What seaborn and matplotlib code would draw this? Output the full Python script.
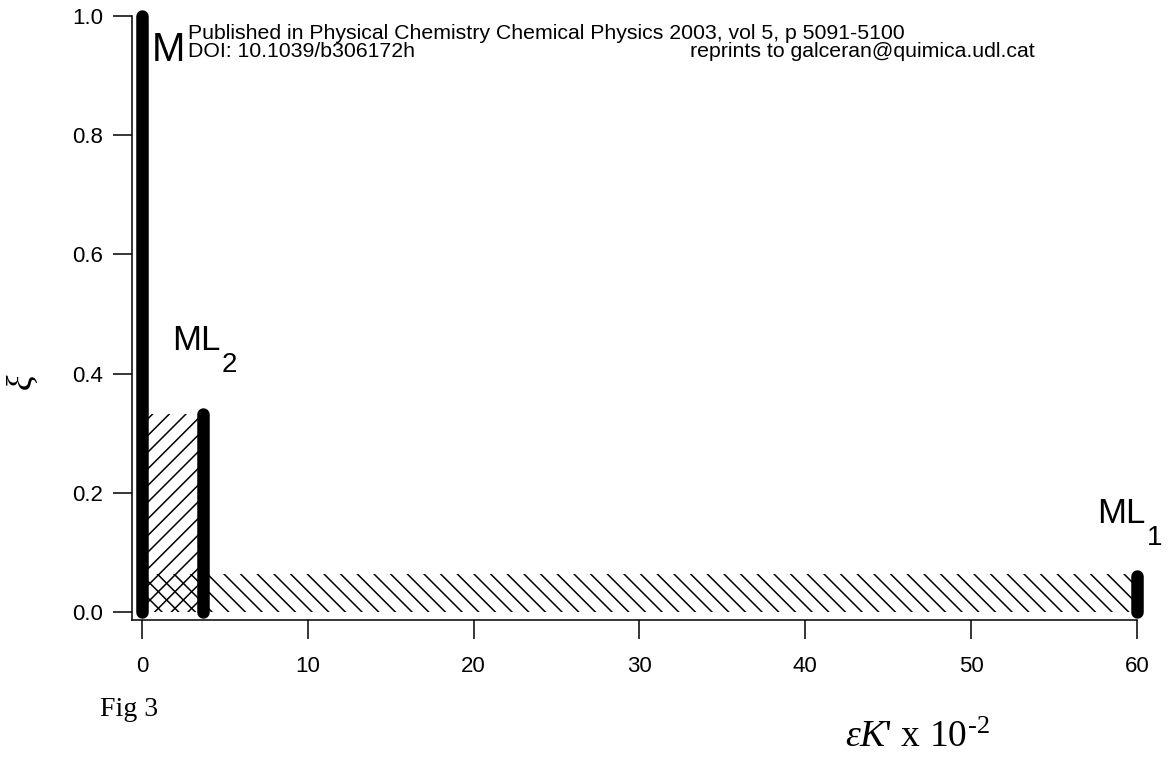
import matplotlib
matplotlib.use("Agg")
import matplotlib.pyplot as plt
import seaborn as sns
import pandas as pd

# ---- data ----
species = ["M", "ML2", "ML1"]
species_x = [0.0, 3.7, 60.0]          # εK' x 10^-2 position of each bar
species_xi = [1.0, 0.333, 0.06]       # ξ height of each bar
hatch_x0 = [0.0, 0.0]
hatch_x1 = [3.7, 60.0]
hatch_top = [0.333, 0.063]
hatch_style = ["//", "\\\\"]
x_ticks = [0, 10, 20, 30, 40, 50, 60]
y_ticks = [0.0, 0.2, 0.4, 0.6, 0.8, 1.0]

sns.set_theme(style="ticks")
plt.rcParams["font.family"] = ["Liberation Sans", "DejaVu Sans"]
plt.rcParams["text.color"] = "black"
plt.rcParams["mathtext.fontset"] = "custom"
plt.rcParams["mathtext.rm"] = "Liberation Serif"
plt.rcParams["mathtext.it"] = "Liberation Serif:italic"
plt.rcParams["hatch.linewidth"] = 1.1

W, H = 1175, 758
fig = plt.figure(figsize=(W / 100, H / 100), dpi=100)
ax = fig.add_axes([132 / W, 1 - 620 / H, (1137 - 132) / W, (620 - 16) / H])

# hatched regions
for x0, x1, top, h in zip(hatch_x0, hatch_x1, hatch_top, hatch_style):
    ax.bar(x0, top, width=x1 - x0, align="edge", bottom=0, fill=False,
           hatch=h, edgecolor="black", linewidth=0, zorder=1)

# thick vertical bars
rows = []
for name, x, y in zip(species, species_x, species_xi):
    rows.append({"x": x, "y": 0.0, "sp": name})
    rows.append({"x": x, "y": y, "sp": name})
df = pd.DataFrame(rows)
sns.lineplot(data=df, x="x", y="y", units="sp", estimator=None, sort=False,
             color="black", linewidth=9, solid_capstyle="round", ax=ax,
             zorder=3, legend=False)

ax.set_xlim(-0.6, 60)
ax.set_ylim(-0.0134, 1.0)
ax.set_xticks(x_ticks)
ax.set_yticks(y_ticks)
ax.set_xticklabels([str(v) for v in x_ticks])
ax.set_yticklabels([f"{v:.1f}" for v in y_ticks])
ax.tick_params(axis="both", direction="out", length=14, width=1.1,
               labelsize=16, colors="black")
ax.tick_params(axis="y", pad=7)
ax.tick_params(axis="x", pad=12)
for s in ["top", "right"]:
    ax.spines[s].set_visible(False)
for s in ["left", "bottom"]:
    ax.spines[s].set_linewidth(1.1)
    ax.spines[s].set_color("black")
ax.set_xlabel("")
ax.set_ylabel("")
for art in ax.lines:
    art.set_clip_on(False)

# species labels (main text + large subscript placed against it)
ax.text(0.6, 0.924, "M", fontsize=29, ha="left", va="baseline")
t2 = ax.text(1.8, 0.44, "ML", fontsize=25, ha="left", va="baseline")
ax.annotate("2", xy=(1, 0), xycoords=t2, xytext=(1, -11), textcoords="offset points",
            fontsize=20, ha="left", va="baseline")
t1 = ax.text(57.6, 0.15, "ML", fontsize=25, ha="left", va="baseline")
ax.annotate("1", xy=(1, 0), xycoords=t1, xytext=(1, -11), textcoords="offset points",
            fontsize=20, ha="left", va="baseline")

# header text
fig.text(188 / W, 1 - 39 / H, "Published in Physical Chemistry Chemical Physics 2003, vol 5, p 5091-5100",
         fontsize=15.3, ha="left", va="baseline")
fig.text(188 / W, 1 - 57 / H, "DOI: 10.1039/b306172h", fontsize=15.3, ha="left", va="baseline")
fig.text(690 / W, 1 - 57 / H, "reprints to galceran@quimica.udl.cat", fontsize=15.3,
         ha="left", va="baseline")

# axis labels
fig.text(100 / W, 1 - 716 / H, "Fig 3", fontsize=20, family="Liberation Serif",
         ha="left", va="baseline")
xl = fig.text(845 / W, 1 - 746 / H, r"$\varepsilon K$' x 10", fontsize=27,
              family="Liberation Serif", ha="left", va="baseline")
ax.annotate("-2", xy=(1, 0), xycoords=xl, xytext=(1, 15), textcoords="offset points",
            fontsize=19, family="Liberation Serif", ha="left", va="baseline")
fig.text(22 / W, 1 - 382 / H, r"$\xi$", fontsize=26, rotation=90,
         ha="center", va="center")

fig.savefig("out.png", dpi=100, facecolor="white")
